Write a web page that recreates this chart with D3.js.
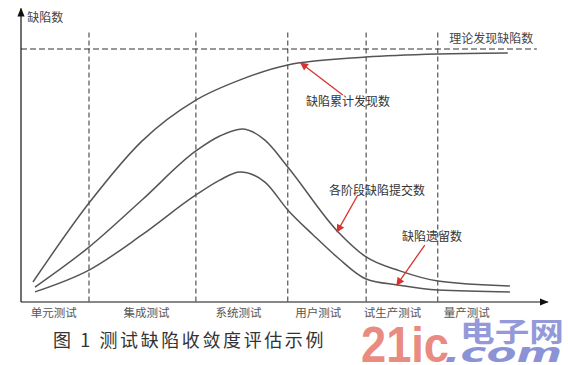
<!DOCTYPE html>
<html lang="zh">
<head>
<meta charset="UTF-8">
<style>
	body { margin: 0; background: #fff; }
	svg { display: block; font-family: "Noto Sans CJK SC", sans-serif; }
</style>
<script src="https://d3js.org/d3.v7.min.js"></script>
<title>测试缺陷收敛度评估示例</title>
</head>
<body>
<div id="chart"></div>
<script>
// x in "test progress" units (0..100), y in defect count units (theory total = 100)
const stageNames = ["单元测试", "集成测试", "系统测试", "用户测试", "试生产测试", "量产测试"];
const stageLabelPos = [6.2, 24.1, 41.8, 57.2, 71.5, 85.8];
const stageBounds = [13.1, 33.7, 51.4, 66.5, 80.3];
const theoryTotal = 100;

const cumulativeFound = [
	[2.3, 7.9], [13.1, 39.1], [23.3, 63.6], [33.7, 79.8], [42.6, 88.1],
	[51.4, 93.7], [66.5, 96.8], [80.3, 98.0], [93.8, 98.4]
];
const stageSubmitted = [
	[2.7, 5.9], [13.1, 21.7], [23.3, 40.3], [33.7, 59.7], [38.3, 65.6],
	[42.6, 68.4], [47.0, 64.0], [51.4, 53.4], [61.1, 27.7], [66.5, 17.8],
	[73.0, 12.3], [80.3, 8.3], [94.2, 6.3]
];
const defectsLeft = [
	[2.7, 4.0], [13.1, 12.6], [23.3, 26.5], [33.7, 42.3], [38.3, 48.2],
	[42.2, 51.4], [47.0, 47.4], [51.4, 36.4], [56.3, 26.5], [61.1, 17.4],
	[66.5, 9.1], [72.6, 6.7], [80.3, 4.7], [94.2, 4.0]
];

// annotation: text, text position, arrow tail, arrow tip (data units)
const notes = [
	{ text: "缺陷累计发现数", at: [63.0, 78.7], from: [62.0, 81.8], to: [53.9, 94.5] },
	{ text: "各阶段缺陷提交数", at: [68.6, 43.5], from: [64.9, 42.3], to: [60.9, 27.7] },
	{ text: "缺陷遗留数", at: [79.2, 25.3], from: [77.8, 22.5], to: [72.4, 6.7] }
];

const W = 568, H = 365;
const svg = d3.select("#chart").append("svg").attr("width", W).attr("height", H);

const x = d3.scaleLinear().domain([0, 100]).range([21, 540]);
const y = d3.scaleLinear().domain([0, 100]).range([302, 49]);

const defs = svg.append("defs");
defs.append("marker").attr("id", "axisHead")
	.attr("viewBox", "0 0 10 10").attr("refX", 9).attr("refY", 5)
	.attr("markerWidth", 9).attr("markerHeight", 9).attr("orient", "auto")
	.attr("markerUnits", "userSpaceOnUse")
	.append("path").attr("d", "M0,1 L10,5 L0,9 Z").attr("fill", "#111");
defs.append("marker").attr("id", "redHead")
	.attr("viewBox", "0 0 10 10").attr("refX", 9).attr("refY", 5)
	.attr("markerWidth", 10).attr("markerHeight", 8).attr("orient", "auto")
	.attr("markerUnits", "userSpaceOnUse")
	.append("path").attr("d", "M0,0 L10,5 L0,10 Z").attr("fill", "#d8332e");

// stage boundaries
svg.append("g").selectAll("line").data(stageBounds).join("line")
	.attr("x1", d => x(d)).attr("x2", d => x(d))
	.attr("y1", y(106.5)).attr("y2", y(0))
	.attr("stroke", "#444").attr("stroke-width", 1.1)
	.attr("stroke-dasharray", "5,3");

// theory total line
svg.append("line")
	.attr("x1", x(0)).attr("x2", x(99.4))
	.attr("y1", y(theoryTotal)).attr("y2", y(theoryTotal))
	.attr("stroke", "#333").attr("stroke-width", 1.1)
	.attr("stroke-dasharray", "6,3");

// axes
const xAxis = svg.append("g")
	.attr("transform", "translate(0," + y(0) + ")")
	.call(d3.axisBottom(x).tickValues(stageLabelPos)
		.tickFormat((d, i) => stageNames[i]).tickSize(0).tickPadding(7));
xAxis.select(".domain").remove();
xAxis.selectAll("text").attr("fill", "#555").attr("font-size", 11.5)
	.attr("font-family", "'Noto Sans CJK SC', sans-serif");

svg.append("line")
	.attr("x1", x(0)).attr("x2", x(101.5))
	.attr("y1", y(0)).attr("y2", y(0))
	.attr("stroke", "#111").attr("stroke-width", 1.2)
	.attr("marker-end", "url(#axisHead)");
svg.append("line")
	.attr("x1", x(0)).attr("x2", x(0))
	.attr("y1", y(0)).attr("y2", y(116))
	.attr("stroke", "#111").attr("stroke-width", 1.2)
	.attr("marker-end", "url(#axisHead)");

svg.append("text").attr("x", x(1.2)).attr("y", 22)
	.attr("font-size", 12).attr("fill", "#444").text("缺陷数");
svg.append("text").attr("x", x(98.7)).attr("y", 43)
	.attr("text-anchor", "end").attr("font-size", 12).attr("fill", "#444")
	.text("理论发现缺陷数");

// curves
const line = d3.line().x(d => x(d[0])).y(d => y(d[1])).curve(d3.curveMonotoneX);
svg.append("g").selectAll("path")
	.data([cumulativeFound, stageSubmitted, defectsLeft]).join("path")
	.attr("d", line).attr("fill", "none")
	.attr("stroke", "#555").attr("stroke-width", 1.5);

// annotations
const ann = svg.append("g");
ann.selectAll("line").data(notes).join("line")
	.attr("x1", d => x(d.from[0])).attr("y1", d => y(d.from[1]))
	.attr("x2", d => x(d.to[0])).attr("y2", d => y(d.to[1]))
	.attr("stroke", "#d8332e").attr("stroke-width", 1.3)
	.attr("marker-end", "url(#redHead)");
ann.selectAll("text").data(notes).join("text")
	.attr("x", d => x(d.at[0])).attr("y", d => y(d.at[1]))
	.attr("text-anchor", "middle").attr("dominant-baseline", "middle")
	.attr("font-size", 12).attr("fill", "#333")
	.text(d => d.text);

// caption
svg.append("text").attr("x", 53).attr("y", 347)
	.attr("font-size", 18).attr("letter-spacing", 2.6).attr("fill", "#333")
	.text("图 1  测试缺陷收敛度评估示例");

// watermark
const wm = svg.append("g").attr("opacity", 0.8);
wm.append("text").attr("x", 361).attr("y", 362)
	.attr("font-family", "'Liberation Sans Narrow', 'Liberation Sans', sans-serif")
	.attr("font-weight", "bold").attr("font-size", 50)
	.attr("textLength", 88).attr("lengthAdjust", "spacingAndGlyphs")
	.attr("fill", "#e46f61").text("21ic");
wm.append("text").attr("x", 460).attr("y", 342)
	.attr("font-weight", "bold").attr("font-size", 27)
	.attr("textLength", 104).attr("lengthAdjust", "spacingAndGlyphs")
	.attr("fill", "#7a80d0").text("电子网");
wm.append("text").attr("x", 444).attr("y", 362)
	.attr("font-family", "'DejaVu Sans', sans-serif").attr("font-weight", "bold")
	.attr("font-style", "italic").attr("font-size", 26)
	.attr("textLength", 118).attr("lengthAdjust", "spacingAndGlyphs")
	.attr("fill", "#6f78cc").text(".com");
</script>
</body>
</html>
